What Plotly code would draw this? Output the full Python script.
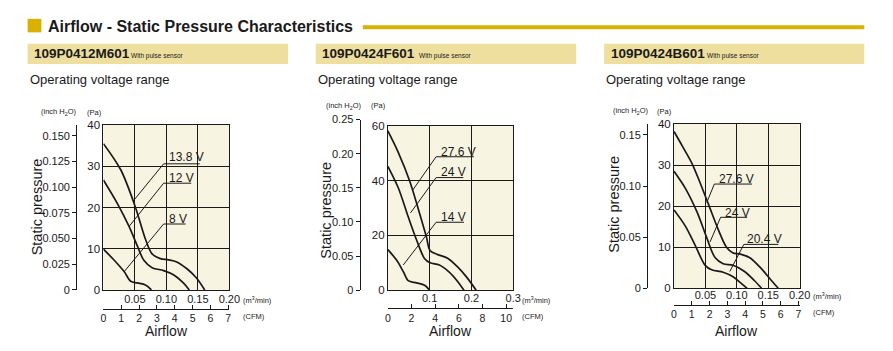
import plotly.graph_objects as go

W, H = 893, 351
PA_PER_INCH = 249.089
M3_PER_CFM = 0.0283168

# ---------------- data ----------------
title_text = "Airflow - Static Pressure Characteristics"
model_names = ["109P0412M601", "109P0424F601", "109P0424B601"]
model_note = "With pulse sensor"
subtitle_text = "Operating voltage range"

# panel 1 : 109P0412M601  (x = m3/min, y = Pa)
p1_labels = ["13.8 V", "12 V", "8 V"]
p1_x_a = [0, 0.0277, 0.0512, 0.0668, 0.0773, 0.0903, 0.1034, 0.1164, 0.1321, 0.1478, 0.1608]
p1_y_a = [35.5, 29.1, 19.9, 12.3, 8.75, 7.6, 7.3, 6.8, 5.2, 2.9, 0]
p1_x_b = [0, 0.0225, 0.0407, 0.0538, 0.0642, 0.0773, 0.0956, 0.1112, 0.1269, 0.1363]
p1_y_b = [26.7, 20.9, 15.4, 10.7, 7.2, 5.4, 4.7, 3.7, 1.7, 0]
p1_x_c = [0, 0.0172, 0.0329, 0.0433, 0.0538, 0.0668, 0.0762]
p1_y_c = [9.9, 7.2, 4.45, 2.1, 1.7, 1.2, 0]
p1_flow_ticks = [0.05, 0.10, 0.15, 0.20]
p1_flow_text = ["0.05", "0.10", "0.15", "0.20"]
p1_pa_ticks = [0, 10, 20, 30, 40]
p1_inch_ticks = [0, 0.025, 0.05, 0.075, 0.10, 0.125, 0.15]
p1_inch_text = ["0", "0.025", "0.050", "0.075", "0.100", "0.125", "0.150"]
p1_cfm_ticks = [0, 1, 2, 3, 4, 5, 6, 7]

# panel 2 : 109P0424F601
p2_labels = ["27.6 V", "24 V", "14 V"]
p2_x_a = [0, 0.0251, 0.0526, 0.0762, 0.0919, 0.1013, 0.1194, 0.143, 0.1665, 0.190, 0.2113]
p2_y_a = [58.1, 50.2, 39.7, 27.9, 19.7, 14.4, 13.0, 11.7, 8.6, 4.5, 0]
p2_x_b = [0, 0.0251, 0.0487, 0.0683, 0.088, 0.1013, 0.1233, 0.1469, 0.1665, 0.1822]
p2_y_b = [45.2, 37.3, 26.8, 18.5, 11.5, 10.0, 9.2, 6.6, 3.3, 0]
p2_x_c = [0, 0.0212, 0.0369, 0.0487, 0.0683, 0.088, 0.0998]
p2_y_c = [14.8, 10.9, 6.8, 3.5, 2.7, 1.8, 0]
p2_flow_ticks = [0.1, 0.2, 0.3]
p2_flow_text = ["0.1", "0.2", "0.3"]
p2_pa_ticks = [0, 20, 40, 60]
p2_inch_ticks = [0, 0.05, 0.10, 0.15, 0.20, 0.25]
p2_inch_text = ["0", "0.05", "0.10", "0.15", "0.20", "0.25"]
p2_cfm_ticks = [0, 2, 4, 6, 8, 10]

# panel 3 : 109P0424B601
p3_labels = ["27.6 V", "24 V", "20.4 V"]
p3_x_a = [0, 0.0131, 0.0287, 0.0418, 0.0548, 0.0705, 0.0836, 0.094, 0.1044, 0.1201, 0.1384, 0.154, 0.166]
p3_y_a = [38.2, 34.7, 30.4, 25.6, 20.5, 14.3, 10.0, 8.6, 8.4, 7.5, 4.9, 2.1, 0]
p3_x_b = [0, 0.0183, 0.0366, 0.0522, 0.0653, 0.0783, 0.094, 0.1123, 0.1279, 0.1394]
p3_y_b = [28.5, 24.3, 18.6, 12.3, 7.5, 6.0, 5.6, 4.1, 1.9, 0]
p3_x_c = [0, 0.0183, 0.0339, 0.0496, 0.06, 0.0783, 0.094, 0.107, 0.1164]
p3_y_c = [19.1, 15.1, 10.4, 5.6, 4.5, 3.9, 2.8, 1.2, 0]
p3_flow_ticks = [0.05, 0.10, 0.15, 0.20]
p3_flow_text = ["0.05", "0.10", "0.15", "0.20"]
p3_pa_ticks = [0, 10, 20, 30, 40]
p3_inch_ticks = [0, 0.05, 0.10, 0.15]
p3_inch_text = ["0", "0.05", "0.10", "0.15"]
p3_cfm_ticks = [0, 1, 2, 3, 4, 5, 6, 7]

# ---------------- layout / style (pixel geometry) ----------------
FONT = "Liberation Sans, Arial, sans-serif"
NARROW = "Liberation Sans Narrow, Arial Narrow, Liberation Sans, sans-serif"
GOLD = "#D9B100"
BAR = "#EEDF9E"
CREAM = "#F8F4E2"
INK = "#1a1a1a"

panels = [
    dict(model=model_names[0], labels=p1_labels,
         series=[(p1_x_a, p1_y_a), (p1_x_b, p1_y_b), (p1_x_c, p1_y_c)],
         flow_ticks=p1_flow_ticks, flow_text=p1_flow_text, pa_ticks=p1_pa_ticks,
         inch_ticks=p1_inch_ticks, inch_text=p1_inch_text, cfm_ticks=p1_cfm_ticks,
         xmax=0.20, pamax=40, inchmax=40 / PA_PER_INCH,
         box=(102, 230, 123.3, 294), inch_x=74.3, inch_top=123.3, cfm_y=313.3,
         bar=(25, 289.5), sp_x=34, sp_y=208, head_y=110, inch_lbl_x=37, pa_lbl_x=83,
         unit_x=242, m3_y=304, cfm_lbl_y=322, lbl_y=304,
         lab=[  # (anchor x, anchor y, underline x0, x1, underline y, text x, text y)
             (0.0475, 21.6, 0.0956, 0.153, 30.6, 0.1008, 32.2),
             (0.0407, 15.4, 0.0956, 0.1394, 25.9, 0.1008, 27.2),
             (0.033, 4.45, 0.0956, 0.1305, 16.0, 0.1008, 17.3)]),
    dict(model=model_names[1], labels=p2_labels,
         series=[(p2_x_a, p2_y_a), (p2_x_b, p2_y_b), (p2_x_c, p2_y_c)],
         flow_ticks=p2_flow_ticks, flow_text=p2_flow_text, pa_ticks=p2_pa_ticks,
         inch_ticks=p2_inch_ticks, inch_text=p2_inch_text, cfm_ticks=p2_cfm_ticks,
         xmax=0.30, pamax=60, inchmax=0.25,
         box=(391, 518.3, 124, 294.3), inch_x=362.3, inch_top=117.6, cfm_y=312.7,
         bar=(317.7, 582.3), sp_x=328, sp_y=211, head_y=103.5, inch_lbl_x=326, pa_lbl_x=372,
         unit_x=525, m3_y=304, cfm_lbl_y=322, lbl_y=303.5,
         lab=[
             (0.0589, 36.4, 0.1155, 0.2058, 48.7, 0.1233, 50.6),
             (0.0542, 28.2, 0.1155, 0.1807, 41.1, 0.1233, 43.1),
             (0.0369, 9.2, 0.1155, 0.1822, 24.8, 0.1233, 26.9)]),
    dict(model=model_names[2], labels=p3_labels,
         series=[(p3_x_a, p3_y_a), (p3_x_b, p3_y_b), (p3_x_c, p3_y_c)],
         flow_ticks=p3_flow_ticks, flow_text=p3_flow_text, pa_ticks=p3_pa_ticks,
         inch_ticks=p3_inch_ticks, inch_text=p3_inch_text, cfm_ticks=p3_cfm_ticks,
         xmax=0.20, pamax=40, inchmax=40 / PA_PER_INCH,
         box=(681.7, 809.3, 122.3, 292.3), inch_x=654.3, inch_top=122.3, cfm_y=309.3,
         bar=(610.7, 875), sp_x=620.5, sp_y=205, head_y=109, inch_lbl_x=617.5, pa_lbl_x=662,
         unit_x=821, m3_y=300, cfm_lbl_y=317.5, lbl_y=300,
         lab=[
             (0.0522, 20.9, 0.0642, 0.1243, 25.4, 0.0679, 26.7),
             (0.0574, 11.3, 0.0742, 0.1164, 17.3, 0.0783, 18.4),
             (0.0888, 4.1, 0.1112, 0.166, 10.7, 0.1133, 12.1)]),
]


def px(x):
    return x / W


def py(y):
    return 1 - y / H


def aname(letter, n):
    return f"{letter}axis" if n == 1 else f"{letter}axis{n}"


def aref(letter, n):
    return letter if n == 1 else f"{letter}{n}"


fig = go.Figure()
layout = {}
shapes = []
annotations = []


def ann(text, x, y, size, xanchor="left", yanchor="middle", family=FONT, color=INK, angle=0):
    annotations.append(dict(text=text, x=px(x), y=py(y), xref="paper", yref="paper",
                            xanchor=xanchor, yanchor=yanchor, showarrow=False,
                            textangle=angle, font=dict(family=family, size=size, color=color)))


# header
shapes.append(dict(type="rect", xref="paper", yref="paper", x0=px(25), x1=px(39),
                   y0=py(27.3), y1=py(13.3), fillcolor=GOLD, line=dict(width=0)))
ann("<b>" + title_text + "</b>", 44, 21, 16)
shapes.append(dict(type="rect", xref="paper", yref="paper", x0=px(365.5), x1=px(875),
                   y0=py(24), y1=py(20), fillcolor=GOLD, line=dict(width=0)))

for i, p in enumerate(panels):
    mx, cx, dx, lx = 4 * i + 1, 4 * i + 2, 4 * i + 3, 4 * i + 4
    my, iy = 2 * i + 1, 2 * i + 2
    L, R, T, B = p["box"]
    xdom = [px(L), px(R)]
    ydom = [py(B), py(T)]

    # model bar + subtitle
    b0, b1 = p["bar"]
    shapes.append(dict(type="rect", xref="paper", yref="paper", x0=px(b0), x1=px(b1),
                       y0=py(60), y1=py(39), fillcolor=BAR, line=dict(width=0)))
    ann("<b>" + p["model"] + "</b>", b0 + 4.5, 49.5, 13.5)
    ann(model_note, b0 + 102.5, 51.5, 6.5)
    ann(subtitle_text, b0, 76, 13)

    # plot background
    shapes.append(dict(type="rect", xref=aref("x", mx) + " domain", yref=aref("y", my) + " domain",
                       x0=0, x1=1, y0=0, y1=1, fillcolor=CREAM, line=dict(width=0), layer="below"))

    # main axes (flow: gridlines/box only; its labels come from the label axis below)
    layout[aname("x", mx)] = dict(domain=xdom, anchor=aref("y", my), range=[0, p["xmax"]],
                                  tickmode="array", tickvals=p["flow_ticks"], showticklabels=False,
                                  showgrid=True, gridcolor=INK, gridwidth=1, zeroline=False,
                                  showline=True, mirror=True, linecolor=INK, linewidth=1, ticks="",
                                  fixedrange=True)
    layout[aname("y", my)] = dict(domain=ydom, anchor=aref("x", mx), range=[0, p["pamax"]],
                                  tickmode="array", tickvals=p["pa_ticks"],
                                  showgrid=True, gridcolor=INK, gridwidth=1, zeroline=False,
                                  showline=True, mirror=True, linecolor=INK, linewidth=1, ticks="",
                                  tickfont=dict(family=NARROW, size=11.5, color=INK), fixedrange=True)
    # flow label axis (m3/min tick labels)
    layout[aname("x", lx)] = dict(overlaying=aref("x", mx), anchor="free",
                                  position=py(p["lbl_y"] - 9), range=[0, p["xmax"]], side="bottom",
                                  tickmode="array", tickvals=p["flow_ticks"], ticktext=p["flow_text"],
                                  showgrid=False, zeroline=False, showline=False, ticks="",
                                  tickfont=dict(family=NARROW, size=11, color=INK), fixedrange=True)
    # CFM axis
    layout[aname("x", cx)] = dict(overlaying=aref("x", mx), anchor="free", position=py(p["cfm_y"]),
                                  range=[0, p["xmax"] / M3_PER_CFM], side="bottom",
                                  tickmode="array", tickvals=p["cfm_ticks"],
                                  showgrid=False, zeroline=False, showline=True, linecolor=INK,
                                  linewidth=1, ticks="inside", ticklen=4, tickcolor=INK,
                                  tickfont=dict(family=NARROW, size=10.5, color=INK), fixedrange=True)
    # dummy x for the inch axis
    layout[aname("x", dx)] = dict(domain=xdom, anchor=aref("y", iy), range=[0, 1], visible=False,
                                  fixedrange=True)
    layout[aname("y", iy)] = dict(domain=[py(B), py(p["inch_top"])], anchor="free",
                                  position=px(p["inch_x"]), range=[0, p["inchmax"]],
                                  tickmode="array", tickvals=p["inch_ticks"], ticktext=p["inch_text"],
                                  showgrid=False, zeroline=False, showline=True, linecolor=INK,
                                  linewidth=1, ticks="outside", ticklen=4, tickcolor=INK,
                                  tickfont=dict(family=NARROW, size=11, color=INK), fixedrange=True)

    # helper traces so every axis is drawn
    for xa, ya in ((cx, my), (lx, my), (dx, iy)):
        fig.add_trace(go.Scatter(x=[0], y=[0], xaxis=aref("x", xa), yaxis=aref("y", ya),
                                 mode="markers", marker=dict(size=1, opacity=0),
                                 hoverinfo="skip", showlegend=False))

    # curves
    for (xs, ys), name in zip(p["series"], p["labels"]):
        fig.add_trace(go.Scatter(x=xs, y=ys, xaxis=aref("x", mx), yaxis=aref("y", my), mode="lines",
                                 line=dict(color=INK, width=1.7, shape="spline", smoothing=0.9),
                                 name=name, showlegend=False, hoverinfo="skip"))
    # curve labels with leader + underline
    for (ax_, ay_, u0, u1, uy, tx, ty), name in zip(p["lab"], p["labels"]):
        fig.add_trace(go.Scatter(x=[ax_, u0, u1], y=[ay_, uy, uy], xaxis=aref("x", mx),
                                 yaxis=aref("y", my), mode="lines",
                                 line=dict(color=INK, width=1), hoverinfo="skip", showlegend=False))
        annotations.append(dict(text=name, x=tx, y=ty, xref=aref("x", mx), yref=aref("y", my),
                                xanchor="left", yanchor="middle", showarrow=False,
                                font=dict(family=FONT, size=12, color=INK)))

    # axis captions
    ann("(inch H<sub>2</sub>O)", p["inch_lbl_x"], p["head_y"], 7.5)
    ann("(Pa)", p["pa_lbl_x"], p["head_y"], 7.5)
    ann("Static pressure", p["sp_x"], p["sp_y"], 14.5, xanchor="center", angle=-90)
    ann("(m<sup>3</sup>/min)", p["unit_x"], p["m3_y"], 7.5)
    ann("(CFM)", p["unit_x"], p["cfm_lbl_y"], 7.5)
    ann("Airflow", (L + R) / 2, 337, 14, xanchor="center")

fig.update_layout(width=W, height=H, margin=dict(l=0, r=0, t=0, b=0),
                  paper_bgcolor="white", plot_bgcolor="rgba(0,0,0,0)", showlegend=False,
                  shapes=shapes, annotations=annotations, **layout)

fig.write_html("out.html")
